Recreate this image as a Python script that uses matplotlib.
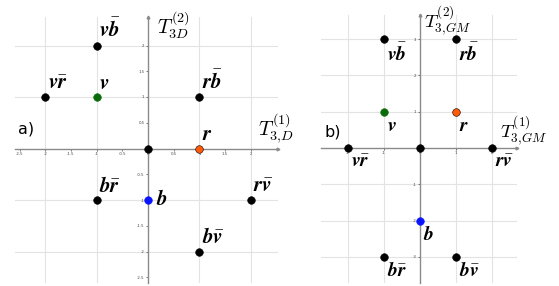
import matplotlib
matplotlib.use("Agg")
import matplotlib.pyplot as plt
import numpy as np

plt.rcParams['mathtext.fontset'] = 'custom'
plt.rcParams['mathtext.rm'] = 'cmr10'
plt.rcParams['mathtext.it'] = 'cmmi10'
plt.rcParams['mathtext.bf'] = 'STIXGeneral:italic:bold'
plt.rcParams['axes.unicode_minus'] = False

# ---- data ----
a_labels = [r'$\mathbf{v\bar{b}}$', r'$\mathbf{v\bar{r}}$', r'$\mathbf{v}$', r'$\mathbf{r\bar{b}}$', '',
            r'$\mathbf{r}$', r'$\mathbf{b\bar{r}}$', r'$\mathbf{b}$', r'$\mathbf{r\bar{v}}$', r'$\mathbf{b\bar{v}}$']
a_x = [-1, -2, -1, 1, 0, 1, -1, 0, 2, 1]
a_y = [2, 1, 1, 1, 0, 0, -1, -1, -1, -2]

b_labels = [r'$\mathbf{v\bar{b}}$', r'$\mathbf{r\bar{b}}$', r'$\mathbf{v}$', r'$\mathbf{r}$', r'$\mathbf{v\bar{r}}$',
            '', r'$\mathbf{r\bar{v}}$', r'$\mathbf{b}$', r'$\mathbf{b\bar{r}}$', r'$\mathbf{b\bar{v}}$']
b_x = [-1, 1, -1, 1, -2, 0, 2, 0, -1, 1]
b_y = [3, 3, 1, 1, 0, 0, 0, -2, -3, -3]

a_ticks_x = [-2.5, -2, -1.5, -1, -0.5, 0, 0.5, 1, 1.5, 2]
a_ticks_y = [-2.5, -2, -1.5, -1, -0.5, 0.5, 1, 1.5, 2]
b_ticks_x = [-2, -1, 0, 1, 2]
b_ticks_y = [-3, -2, -1, 1, 2, 3]

COL = {'v': '#0b6b0b', 'r': '#ff5a0a', 'b': '#0a14ff', 'k': 'black'}
a_col = ['k', 'k', 'v', 'k', 'k', 'r', 'k', 'b', 'k', 'k']
b_col = ['k', 'k', 'v', 'r', 'k', 'k', 'k', 'b', 'k', 'k']

W, H = 559, 286
fig = plt.figure(figsize=(W / 100, H / 100), dpi=100)


def px_axes(x0, x1, y0, y1):
    return fig.add_axes([x0 / W, 1 - y1 / H, (x1 - x0) / W, (y1 - y0) / H])


def fmt(v):
    return '%g' % v


def setup(ax, xlim, ylim, tx, ty, gx, gy):
    ax.set_xlim(*xlim)
    ax.set_ylim(*ylim)
    ax.set_facecolor('none')
    for s in ['top', 'right']:
        ax.spines[s].set_visible(False)
    for s in ['left', 'bottom']:
        ax.spines[s].set_position('zero')
        ax.spines[s].set_color('#8a8a8a')
        ax.spines[s].set_linewidth(1.0)
    ax.set_xticks(tx)
    ax.set_xticklabels([fmt(v) for v in tx])
    ax.set_yticks(ty)
    ax.set_yticklabels([fmt(v) for v in ty])
    ax.tick_params(labelsize=2.8, colors='#444444', length=1.5, width=0.5, pad=1)
    for g in gx:
        ax.axvline(g, color='#e3e3e3', lw=0.8, zorder=0)
    for g in gy:
        ax.axhline(g, color='#e3e3e3', lw=0.8, zorder=0)
    ax.plot(1, 0, '>', color='#8a8a8a', ms=2, transform=ax.get_yaxis_transform(), clip_on=False)
    ax.plot(0, 1, '^', color='#8a8a8a', ms=2, transform=ax.get_xaxis_transform(), clip_on=False)


LS = 15

# ---- panel a ----
axa = px_axes(15, 278, 17, 283)
x0, sx, y0, sy = 148, 51.3, 148.5, 51.5
setup(axa, ((15 - x0) / sx, (278 - x0) / sx), ((y0 - 283) / sy, (y0 - 17) / sy),
      a_ticks_x, a_ticks_y, [-2, -1, 1, 2], [-2, -1, 1, 2])
for x, y, c, lab in zip(a_x, a_y, a_col, a_labels):
    axa.plot(x, y, 'o', color=COL[c], ms=5.5, mec='black' if c == 'r' else COL[c], mew=0.4, zorder=5, clip_on=False)
    if lab:
        off = (6, 1) if lab == r'$\mathbf{b}$' else (2, 3)
        va = 'center' if lab == r'$\mathbf{b}$' else 'bottom'
        axa.annotate(lab, (x, y), xytext=off, textcoords='offset points', fontsize=LS,
                     ha='left', va=va, zorder=6)

# ---- panel b ----
axb = px_axes(321, 517, 15, 283)
x0, sx, y0, sy = 420, 36.0, 148, 36.3
setup(axb, ((321 - x0) / sx, (517 - x0) / sx), ((y0 - 283) / sy, (y0 - 15) / sy),
      b_ticks_x, b_ticks_y, [-2, -1, 1, 2], [-3, -2, -1, 1, 2, 3])
for x, y, c, lab in zip(b_x, b_y, b_col, b_labels):
    axb.plot(x, y, 'o', color=COL[c], ms=5.5, mec='black' if c == 'r' else COL[c], mew=0.4, zorder=5, clip_on=False)
    if lab:
        axb.annotate(lab, (x, y), xytext=(2, -3), textcoords='offset points', fontsize=LS - 1,
                     ha='left', va='top', zorder=6)

# ---- axis titles and panel letters ----
fig.text(157 / W, 1 - 41 / H, r'$T^{(2)}_{3D}$', fontsize=14.5, ha='left', va='bottom')
fig.text(258 / W, 1 - 146 / H, r'$T^{(1)}_{3{,}D}$', fontsize=14.5, ha='left', va='bottom')
fig.text(424 / W, 1 - 3 / H, r'$T^{(2)}_{3{,}GM}$', fontsize=13.5, ha='left', va='top')
fig.text(500 / W, 1 - 147 / H, r'$T^{(1)}_{3{,}GM}$', fontsize=13.5, ha='left', va='bottom')
fig.text(18 / W, 1 - 129 / H, 'a)', fontsize=11.5, ha='left', va='center')
fig.text(325 / W, 1 - 132 / H, 'b)', fontsize=11.5, ha='left', va='center')

fig.savefig('out.png', dpi=100)
